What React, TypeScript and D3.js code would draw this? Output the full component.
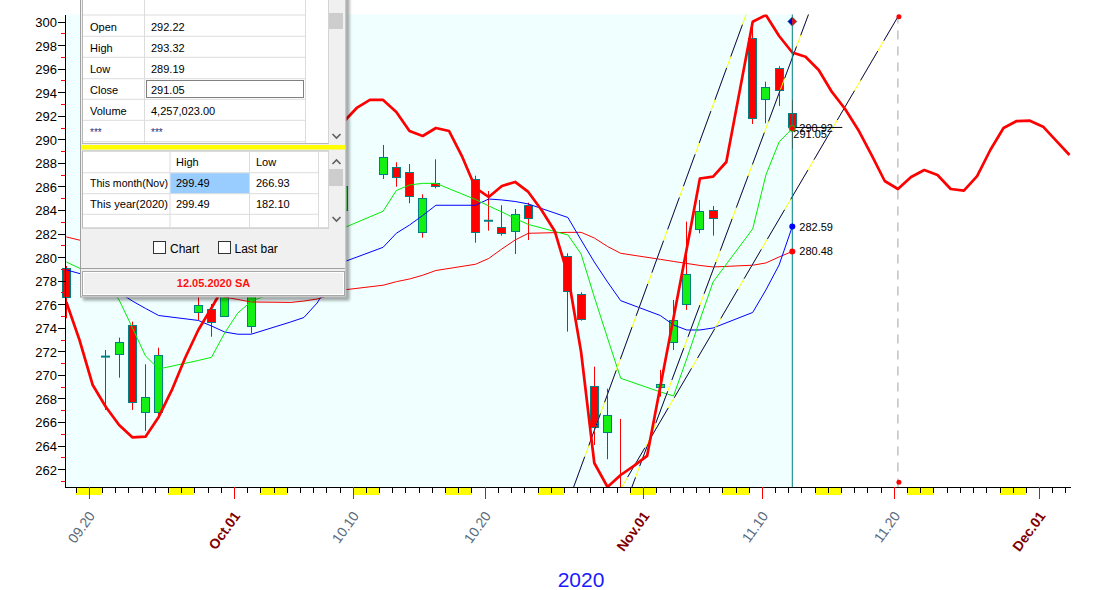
import React from "react";
import * as d3 from "d3";

// ---------------- data ----------------
const candleDates = [
  "2020-09-18", "2020-09-21", "2020-09-22", "2020-09-23", "2020-09-24", "2020-09-25",
  "2020-09-28", "2020-09-29", "2020-09-30", "2020-10-01", "2020-10-02",
  "2020-10-05", "2020-10-06", "2020-10-07", "2020-10-08", "2020-10-09",
  "2020-10-12", "2020-10-13", "2020-10-14", "2020-10-15", "2020-10-16",
  "2020-10-19", "2020-10-20", "2020-10-21", "2020-10-22", "2020-10-23",
  "2020-10-26", "2020-10-27", "2020-10-28", "2020-10-29", "2020-10-30",
  "2020-11-02", "2020-11-03", "2020-11-04", "2020-11-05", "2020-11-06",
  "2020-11-09", "2020-11-10", "2020-11-11", "2020-11-12",
];
const openValues = [
  279.05, 271.55, 271.75, 274.21, 266.88, 266.83,
  275.31, 275.57, 275.03, 277.4, 274.18,
  277.6, 278.9, 280.6, 282.1, 284.0,
  287.03, 287.62, 287.2, 282.1, 286.26,
  286.6, 283.09, 282.53, 282.19, 284.4,
  280.12, 276.89, 269.03, 265.18, 260.2,
  268.95, 272.77, 275.99, 282.36, 283.97,
  298.57, 293.4, 296.03, 292.22,
];
const highValues = [
  279.24, 272.11, 273.16, 274.52, 270.9, 272.31,
  276.7, 276.02, 277.9, 278.3, 278.0,
  279.2, 281.0, 282.5, 284.4, 286.5,
  289.52, 288.05, 287.9, 285.33, 288.3,
  286.91, 285.61, 284.4, 284.08, 284.62,
  280.32, 277.01, 270.7, 268.83, 266.26,
  270.42, 276.36, 283.01, 284.85, 284.34,
  299.49, 294.89, 296.2, 293.32,
];
const lowValues = [
  274.8, 267.02, 269.76, 267.02, 265.24, 266.45,
  274.66, 273.24, 274.91, 276.9, 273.53,
  277.0, 278.5, 280.2, 281.8, 283.6,
  286.63, 285.98, 284.57, 281.65, 285.84,
  281.22, 282.24, 281.82, 280.26, 281.45,
  273.67, 274.6, 264.05, 262.84, 258.6,
  268.15, 272.11, 275.51, 282.02, 281.82,
  291.3, 291.36, 292.83, 289.19,
];
const closeValues = [
  276.59, 271.55, 272.77, 267.67, 268.12, 271.69,
  275.91, 274.49, 277.4, 277.8, 277.5,
  278.9, 280.6, 282.1, 284.0, 286.0,
  288.47, 286.77, 285.16, 284.99, 286.04,
  282.1, 283.09, 282.02, 283.63, 283.35,
  277.1, 274.72, 265.55, 266.57, 259.4,
  269.2, 274.64, 278.54, 283.91, 283.29,
  291.78, 294.47, 294.19, 291.05,
];
const maGreenValues = [
  279.58, 278.0, 276.36, 274.02, 271.6, 270.5, 271.22, 271.49, 273.56, 275.26, 276.23,
  277.6, 279.0, 280.2, 281.4, 282.47,
  283.89, 285.65, 286.12, 286.26, 286.26,
  284.89, 284.34, 283.83, 283.28, 282.77,
  281.88, 280.26, 276.61, 273.13, 269.71,
  268.55, 268.21, 271.35, 274.66, 277.89,
  282.39, 286.97, 289.77, 290.92,
];
const maBlueValues = [
  278.91, 278.0, 277.0, 276.27, 275.64, 275.04, 274.62, 274.15, 273.64, 273.45, 273.45,
  274.49, 274.87, 276.1, 277.89, 279.58,
  280.83, 282.02, 282.72, 283.53, 284.4,
  284.4, 284.93, 284.85, 284.72, 284.51,
  283.36, 281.45, 279.58, 277.89, 276.3,
  275.04, 274.24, 273.81, 273.81, 273.98,
  275.3, 277.21, 279.33, 282.59,
];
const maRedValues = [
  281.71, 280.9, 280.2, 279.4, 278.6, 277.9, 277.2, 276.9, 276.6, 276.4, 276.19,
  276.15, 276.27, 276.44, 276.78, 277.21,
  277.61, 277.91, 278.14, 278.46, 278.86,
  279.39, 279.88, 280.69, 281.45, 282.02,
  282.1, 282.1, 281.62, 280.9, 280.32,
  279.81, 279.63, 279.46, 279.29, 279.16,
  279.31, 279.5, 280.01, 280.48,
];
// smoothed curve, one value per calendar day starting at curveStartDate
const curveStartDate = "2020-09-18";
const curveValues = [
  276.19, 272.96, 269.14, 267.27, 265.75, 264.7, 264.75, 266.43, 268.72, 271.43,
  273.81, 275.68, 277.63, 279.58, 281.45, 283.32, 285.19, 286.88, 288.41, 289.69,
  290.7, 291.47, 292.66, 293.34, 293.34, 292.32, 290.7, 290.28, 290.96, 290.7,
  288.5, 285.87, 285.1, 286.04, 286.38, 285.53, 284.0, 282.22, 278.48, 271.94,
  262.52, 260.48, 261.5, 262.27, 263.12, 269.0, 274.83, 280.69, 286.67, 286.83,
  288.07, 294.02, 299.98, 300.55, 298.77, 297.37, 297.01, 295.88, 294.02, 292.57,
  290.79, 288.67, 286.46, 285.78, 286.8, 287.39, 286.97, 285.78, 285.64, 286.88,
  289.09, 290.96, 291.55, 291.58, 291.07, 289.86, 288.67,
];
// trend lines: two anchors each, plus the date span to draw
const trendStartDates = ["2020-10-28", "2020-11-02", "2020-11-12"];
const trendStartValues = [265.28, 266.93, 285.13];
const trendEndDates = ["2020-11-08", "2020-11-12", "2020-11-20"];
const trendEndValues = [299.05, 296.92, 300.4];
const trendDrawFrom = ["2020-10-24", "2020-10-29", "2020-10-27"];
const trendDrawTo = ["2020-11-11", "2020-11-15", "2020-11-20"];

const forecastDate = "2020-11-20";
const forecastTopValue = 300.4;
const forecastBottomValue = 260.88;

const yMajorTicks = [262, 264, 266, 268, 270, 272, 274, 276, 278, 280, 282, 284, 286, 288, 290, 292, 294, 296, 298, 300];
const yMinorTicks = [261, 263, 265, 267, 269, 271, 273, 275, 277, 279, 281, 283, 285, 287, 289, 291, 293, 295, 297, 299];
const labelDates = ["2020-09-20", "2020-10-01", "2020-10-10", "2020-10-20", "2020-11-01", "2020-11-10", "2020-11-20", "2020-12-01"];
const yearLabel = "2020";

const infoLabels = ["Open", "High", "Low", "Close", "Volume", "***"];
const lastVolume = 4257023;
const statRows = ["This month(Nov)", "This year(2020)"];
const statHigh = [299.49, 299.49];
const statLow = [266.93, 182.1];
const panelTitle = "12.05.2020 SA";

// ---------------- drawing ----------------
const FONT = "'Liberation Sans', Arial, Helvetica, sans-serif";
const W = 1094;
const H = 590;
const PL = 65;
const PR = 1071;
const PT = 14.5;
const PB = 487;
const BAR = 4;

const parse = (s: string) => new Date(s + "T00:00:00Z");

function Chevron({ cx, cy, up }: { cx: number; cy: number; up?: boolean }) {
  const d = up ? `M${cx - 4},${cy + 2} L${cx},${cy - 2} L${cx + 4},${cy + 2}` : `M${cx - 4},${cy - 2} L${cx},${cy + 2} L${cx + 4},${cy - 2}`;
  return <path d={d} fill="none" stroke="#606060" strokeWidth={1.6} />;
}

function Panel({ o, h, l, c }: { o: number; h: number; l: number; c: number }) {
  const fmt = d3.format(".2f");
  const vals = [fmt(o), fmt(h), fmt(l), fmt(c), d3.format(",.2f")(lastVolume), "***"];
  const rowLines = [15, 36.3, 57.3, 78.7, 99.3, 120.3, 141.7];
  const t2Rows = [151, 172.7, 193.7, 214.3];
  return (
    <g fontFamily={FONT}>
      <defs>
        <filter id="shadow" x="-10%" y="-10%" width="130%" height="130%">
          <feDropShadow dx="3" dy="3" stdDeviation="1.6" floodColor="#000" floodOpacity="0.35" />
        </filter>
      </defs>
      <rect x={80.5} y={-6} width={265.5} height={303} fill="#f0f0f0" stroke="#a0a0a0" filter="url(#shadow)" />
      {/* top table */}
      <rect x={82.5} y={-6} width={246} height={149.5} fill="#fff" stroke="#b8b8b8" />
      <line x1={144.5} x2={144.5} y1={-6} y2={143} stroke="#dcdcdc" />
      <line x1={305.5} x2={305.5} y1={-6} y2={143} stroke="#dcdcdc" />
      {rowLines.map((r) => (
        <line key={r} x1={83} x2={305.5} y1={r} y2={r} stroke="#dcdcdc" />
      ))}
      {infoLabels.map((lab, i) => (
        <g key={lab + i}>
          <text x={90} y={rowLines[i] + 15.5} fontSize={lab === "***" ? 10 : 11} fill={lab === "***" ? "#303078" : "#000"}>
            {lab}
          </text>
          <text x={151} y={rowLines[i] + 15.5} fontSize={vals[i] === "***" ? 10 : 11} fill={vals[i] === "***" ? "#303078" : "#000"}>
            {vals[i]}
          </text>
        </g>
      ))}
      <rect x={146.5} y={80.5} width={157} height={17} fill="none" stroke="#000" strokeDasharray="1 1" />
      <rect x={328.5} y={-6} width={16} height={149.5} fill="#f0f0f0" />
      <rect x={329} y={13} width={14} height={16} fill="#cdcdcd" />
      <Chevron cx={336.5} cy={136} />
      {/* separator */}
      <rect x={81} y={145} width={264.5} height={4.5} fill="#ffff00" />
      {/* second table */}
      <rect x={82.5} y={151} width={246} height={77} fill="#fff" stroke="#b8b8b8" />
      {[170, 249.5, 318.5].map((v) => (
        <line key={v} x1={v} x2={v} y1={151} y2={228} stroke="#dcdcdc" />
      ))}
      {t2Rows.slice(1).map((r) => (
        <line key={r} x1={83} x2={318.5} y1={r} y2={r} stroke="#dcdcdc" />
      ))}
      <rect x={170.5} y={173.2} width={78.5} height={20} fill="#99ccff" />
      <text x={176} y={t2Rows[0] + 14.5} fontSize={11}>High</text>
      <text x={256} y={t2Rows[0] + 14.5} fontSize={11}>Low</text>
      {statRows.map((r, i) => (
        <g key={r}>
          <text x={90} y={t2Rows[i + 1] + 14.5} fontSize={10.5} textLength={78} lengthAdjust="spacingAndGlyphs">{r}</text>
          <text x={176} y={t2Rows[i + 1] + 14.5} fontSize={11}>{d3.format(".2f")(statHigh[i])}</text>
          <text x={256} y={t2Rows[i + 1] + 14.5} fontSize={11}>{d3.format(".2f")(statLow[i])}</text>
        </g>
      ))}
      <rect x={328.5} y={151} width={16} height={77} fill="#f0f0f0" />
      <Chevron cx={336.5} cy={162} up />
      <rect x={329} y={169} width={14} height={17} fill="#cdcdcd" />
      <Chevron cx={336.5} cy={219} />
      {/* checkboxes */}
      <rect x={153.5} y={241.5} width={12} height={12} fill="#fff" stroke="#333" />
      <text x={170} y={252.5} fontSize={12}>Chart</text>
      <rect x={218.5} y={241.5} width={12} height={12} fill="#fff" stroke="#333" />
      <text x={234.5} y={252.5} fontSize={12}>Last bar</text>
      {/* bottom label */}
      <line x1={81} x2={345} y1={268.5} y2={268.5} stroke="#a0a0a0" />
      <rect x={82.5} y={271.5} width={262} height={24} fill="#f0f0f0" stroke="#a8a8a8" />
      <rect x={83.5} y={272.5} width={260} height={22} fill="none" stroke="#fff" />
      <text x={213.5} y={287} fontSize={11} fontWeight="bold" fill="#ff1010" textAnchor="middle">
        {panelTitle}
      </text>
    </g>
  );
}

export default function App() {
  const x = d3.scaleUtc().domain([parse("2020-09-20"), parse("2020-12-01")]).range([88.7, 1039.1]);
  const y = d3.scaleLinear().domain([262, 300]).range([469.1, 21.5]);
  const bx = (s: string) => x(parse(s)) + BAR;

  const line = d3.line<[number, number]>().x((p) => p[0]).y((p) => p[1]);
  const maPath = (vals: number[]) => line(candleDates.map((d, i) => [bx(d), y(vals[i])] as [number, number])) || "";
  const curveStart = parse(curveStartDate);
  const curvePath =
    line(curveValues.map((v, i) => [x(d3.utcDay.offset(curveStart, i)) + BAR, y(v)] as [number, number])) || "";

  const allDays = d3.utcDay.range(parse("2020-09-15"), parse("2020-12-08"));
  const tickDays = allDays.filter((d) => x(d) >= PL && x(d) <= PR);
  const weekendBlocks = allDays
    .filter((d) => d.getUTCDay() === 6)
    .map((d) => {
      const x0 = Math.max(PL + 1, x(d));
      const x1 = Math.min(PR, x(d3.utcDay.offset(d, 2)));
      return { key: d.toISOString(), x0, x1 };
    })
    .filter((b) => b.x1 > b.x0);

  const labelFmtMonth = d3.utcFormat("%b.%d");
  const labelFmtDay = d3.utcFormat("%m.%d");

  const trends = trendStartDates.map((s, i) => {
    const x0 = bx(s);
    const y0 = y(trendStartValues[i]);
    const x1 = bx(trendEndDates[i]);
    const y1 = y(trendEndValues[i]);
    const k = (y1 - y0) / (x1 - x0);
    const xa = bx(trendDrawFrom[i]);
    const xb = bx(trendDrawTo[i]);
    return { xa, ya: y0 + (xa - x0) * k, xb, yb: y0 + (xb - x0) * k };
  });

  const n = candleDates.length;
  const lastX = bx(candleDates[n - 1]);
  const lastG = maGreenValues[n - 1];
  const lastB = maBlueValues[n - 1];
  const lastR = maRedValues[n - 1];
  const fx = bx(forecastDate);
  const f2 = d3.format(".2f");

  return (
    <div style={{ position: "absolute", left: 0, top: 0, width: W, height: H, overflow: "hidden" }}>
      <svg width={W} height={H} style={{ display: "block", background: "#fff" }} fontFamily={FONT}>
        <defs>
          <clipPath id="plotClip">
            <rect x={PL + 0.5} y={PT} width={PR - PL} height={PB - PT} />
          </clipPath>
          <clipPath id="candleClip">
            <rect x={55} y={PT} width={PR - 55} height={PB - PT} />
          </clipPath>
        </defs>
        {/* plot background up to last bar */}
        <rect x={PL} y={PT} width={lastX - PL} height={PB - PT} fill="#f0ffff" />

        {/* candles */}
        <g clipPath="url(#candleClip)">
          {candleDates.map((d, i) => {
            const cx = Math.round(bx(d) - 0.5);
            const o = openValues[i];
            const c = closeValues[i];
            const doji = Math.abs(o - c) < 0.05;
            const top = y(Math.max(o, c));
            const bot = y(Math.min(o, c));
            return (
              <g key={d}>
                <line x1={cx + 0.5} x2={cx + 0.5} y1={y(highValues[i])} y2={y(lowValues[i])} stroke="#ff0000" strokeWidth={1} />
                {doji ? (
                  <line x1={cx - 4} x2={cx + 5} y1={top} y2={top} stroke="#008080" strokeWidth={2} />
                ) : (
                  <rect
                    x={cx - 3.5}
                    y={Math.round(top) + 0.5}
                    width={8}
                    height={Math.max(1, Math.round(bot) - Math.round(top))}
                    fill={c > o ? "#14f014" : "#ff0000"}
                    stroke="#008080"
                    strokeWidth={1}
                  />
                )}
              </g>
            );
          })}
        </g>

        <g clipPath="url(#plotClip)" fill="none">
          <path d={maPath(maRedValues)} stroke="#ff0000" strokeWidth={1} />
          <path d={maPath(maBlueValues)} stroke="#0000ff" strokeWidth={1} />
          <path d={maPath(maGreenValues)} stroke="#00ee00" strokeWidth={1} />
          {trends.map((t, i) => (
            <g key={i}>
              <line x1={t.xa} y1={t.ya} x2={t.xb} y2={t.yb} stroke="#ffff00" strokeWidth={1} />
              <line x1={t.xa} y1={t.ya} x2={t.xb} y2={t.yb} stroke="#00008b" strokeWidth={1} strokeDasharray="34 12" />
            </g>
          ))}
          <line x1={fx} x2={fx} y1={PT} y2={PB} stroke="#b4b4b4" strokeWidth={1.2} strokeDasharray="9 7" />
          <path d={curvePath} stroke="#ff0000" strokeWidth={2.7} strokeLinejoin="round" />
        </g>

        {/* last bar marker */}
        <line x1={lastX} x2={lastX} y1={PT} y2={PB} stroke="#008080" strokeWidth={1} />
        <path d={`M${lastX - 4.5},${y(300)} L${lastX},${y(300) - 4.5} L${lastX},${y(300) + 4.5} Z`} fill="#0000cc" />
        <path d={`M${lastX + 4.5},${y(300)} L${lastX},${y(300) - 4.5} L${lastX},${y(300) + 4.5} Z`} fill="#ff0000" />
        <path
          d={`M${lastX - 4.5},${y(300)} L${lastX},${y(300) - 4.5} L${lastX + 4.5},${y(300)} L${lastX},${y(300) + 4.5} Z`}
          fill="none"
          stroke="#008080"
          strokeWidth={0.8}
        />
        <line x1={lastX} x2={lastX + 50} y1={y(lastG) - 1} y2={y(lastG) - 1} stroke="#000" strokeWidth={1} />
        <circle cx={lastX} cy={y(lastG)} r={3} fill="#ff0000" stroke="#00cc00" strokeWidth={1} />
        <circle cx={lastX} cy={y(lastB)} r={3} fill="#0000ff" />
        <circle cx={lastX} cy={y(lastR)} r={3} fill="#ff0000" />
        <text x={lastX + 7} y={y(lastG) + 3.5} fontSize={11} fill="#000">{f2(lastG)}</text>
        <text x={lastX + 1} y={y(lastG) + 10} fontSize={11} fill="#000">{f2(closeValues[n - 1])}</text>
        <text x={lastX + 7} y={y(lastB) + 4} fontSize={11} fill="#000">{f2(lastB)}</text>
        <text x={lastX + 7} y={y(lastR) + 4} fontSize={11} fill="#000">{f2(lastR)}</text>
        <circle cx={fx + 1} cy={y(forecastTopValue)} r={2.5} fill="#ff0000" />
        <circle cx={fx + 1} cy={y(forecastBottomValue)} r={2.5} fill="#ff0000" />

        {/* axes */}
        <g shapeRendering="crispEdges">
          <line x1={PL + 0.5} x2={PL + 0.5} y1={PT} y2={PB + 1} stroke="#000" />
          <line x1={PL} x2={PR} y1={PB + 0.5} y2={PB + 0.5} stroke="#000" />
          {yMajorTicks.map((v) => (
            <line key={v} x1={58} x2={PL} y1={Math.round(y(v)) + 0.5} y2={Math.round(y(v)) + 0.5} stroke="#000" />
          ))}
          {yMinorTicks.map((v) => (
            <line key={v} x1={61} x2={PL} y1={Math.round(y(v)) + 0.5} y2={Math.round(y(v)) + 0.5} stroke="#ff0000" />
          ))}
          {weekendBlocks.map((b) => (
            <rect key={b.key} x={b.x0} y={488} width={b.x1 - b.x0} height={7} fill="#ffff00" />
          ))}
          {tickDays.map((d) => (
            <line key={d.toISOString()} x1={Math.round(x(d)) + 0.5} x2={Math.round(x(d)) + 0.5} y1={PB} y2={493} stroke="#000" />
          ))}
          {labelDates.map((s) => (
            <line key={s} x1={Math.round(x(parse(s))) + 0.5} x2={Math.round(x(parse(s))) + 0.5} y1={PB} y2={499} stroke="#ff0000" />
          ))}
        </g>
        {yMajorTicks.map((v) => (
          <text key={v} x={57} y={y(v) + 5.5} fontSize={13} textAnchor="end" fill="#000">
            {v}
          </text>
        ))}
        {labelDates.map((s) => {
          const d = parse(s);
          const isMonth = d.getUTCDate() === 1;
          const tx = x(d) + 7;
          const ty = 516;
          return (
            <text
              key={s}
              x={tx}
              y={ty}
              transform={`rotate(-54 ${tx} ${ty})`}
              textAnchor="end"
              fontSize={14}
              fontWeight={isMonth ? "bold" : "normal"}
              fill={isMonth ? "#800000" : "#5a6b7d"}
            >
              {isMonth ? labelFmtMonth(d) : labelFmtDay(d)}
            </text>
          );
        })}
        <text x={581} y={587} fontSize={21} textAnchor="middle" fill="#1a1aff">
          {yearLabel}
        </text>

        <Panel o={openValues[n - 1]} h={highValues[n - 1]} l={lowValues[n - 1]} c={closeValues[n - 1]} />
      </svg>
    </div>
  );
}
